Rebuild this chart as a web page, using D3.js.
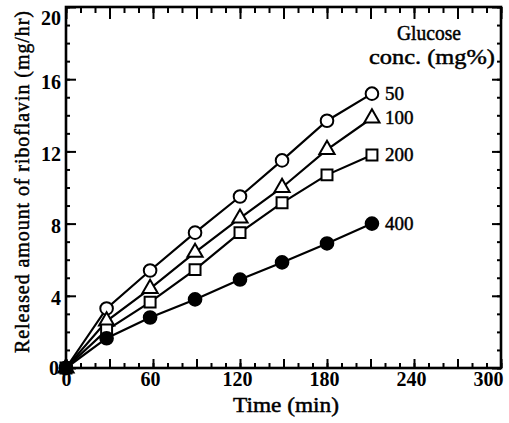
<!DOCTYPE html>
<html>
<head>
<meta charset="utf-8">
<script src="https://cdn.jsdelivr.net/npm/d3@7"></script>
<style>
  html, body { margin: 0; padding: 0; background: #fff; }
  svg { display: block; }
  text { font-family: "Liberation Serif", "Times New Roman", serif; fill: #000; }
  .heavy { stroke: #000; stroke-width: 0.45px; }
</style>
</head>
<body>
<svg id="chart" width="509" height="423"></svg>
<script>
// Sampling times (min)
const times = [0, 28, 58, 89, 120, 149, 180, 211];
// Released riboflavin (mg/hr) for each glucose concentration (mg%)
const conc50  = [0, 3.3, 5.4, 7.5, 9.5, 11.5, 13.7, 15.2];
const conc100 = [0, 2.6, 4.4, 6.4, 8.3, 10.0, 12.1, 13.85];
const conc200 = [0, 2.1, 3.65, 5.45, 7.5, 9.15, 10.7, 11.8];
const conc400 = [0, 1.65, 2.8, 3.8, 4.9, 5.85, 6.9, 8.0];
const seriesLabels = ["50", "100", "200", "400"];
const seriesMarkers = ["circle", "triangle", "square", "dot"];
const xTickLabels = [0, 60, 120, 180, 240, 300];
const yTickLabels = [0, 4, 8, 12, 16, 20];

const svg = d3.select("#chart");
const x = d3.scaleLinear().domain([0, 300]).range([66, 501]);
const y = d3.scaleLinear().domain([0, 20]).range([368, 7]);

const series = [conc50, conc100, conc200, conc400].map((vals, i) => ({
  label: seriesLabels[i],
  marker: seriesMarkers[i],
  points: vals.map((v, j) => ({ t: times[j], v }))
}));

// Plot frame
svg.append("rect")
  .attr("x", x(0)).attr("y", y(20))
  .attr("width", x(300) - x(0)).attr("height", y(0) - y(20))
  .attr("fill", "none").attr("stroke", "#000").attr("stroke-width", 2.6);

// Inward ticks on all four sides
function tickAxis(axisGen, transform, values, size) {
  const g = svg.append("g").attr("transform", transform)
    .call(axisGen.tickValues(values).tickSize(size).tickFormat(""));
  g.select(".domain").remove();
  g.selectAll(".tick line").attr("stroke", "#000").attr("stroke-width", 2);
  return g;
}
const xMinor = d3.range(0, 301, 10);
const xMajor = d3.range(0, 301, 30);
const yMinor = d3.range(0, 21, 1);
const yMajor = d3.range(0, 21, 4);

tickAxis(d3.axisBottom(x), `translate(0,${y(0)})`, xMinor, -5);
tickAxis(d3.axisBottom(x), `translate(0,${y(0)})`, xMajor, -9);
tickAxis(d3.axisTop(x), `translate(0,${y(20)})`, xMinor, -6);
tickAxis(d3.axisTop(x), `translate(0,${y(20)})`, xMajor, -12);
tickAxis(d3.axisLeft(y), `translate(${x(0)},0)`, yMinor, -4);
tickAxis(d3.axisLeft(y), `translate(${x(0)},0)`, yMajor, -10);
tickAxis(d3.axisRight(y), `translate(${x(300)},0)`, yMinor, -4);
tickAxis(d3.axisRight(y), `translate(${x(300)},0)`, yMajor, -9);

// Tick labels
const xLab = svg.append("g").attr("transform", `translate(0,${y(0)})`)
  .call(d3.axisBottom(x).tickValues(xTickLabels).tickSize(0).tickPadding(4).tickFormat(d3.format("d")));
xLab.select(".domain").remove();
xLab.selectAll("text")
  .style("font-family", "'Liberation Serif', serif")
  .style("font-size", "20px").style("font-weight", "bold")
  .attr("dx", -3);
xLab.selectAll(".tick").filter(d => d === 0).select("text").attr("dx", 0);
xLab.selectAll(".tick").filter(d => d === 300).select("text")
  .attr("text-anchor", "end").attr("dx", 2);

const yLab = svg.append("g").attr("transform", `translate(${x(0)},0)`)
  .call(d3.axisLeft(y).tickValues(yTickLabels).tickSize(0).tickPadding(5).tickFormat(d3.format("d")));
yLab.select(".domain").remove();
yLab.selectAll("text")
  .style("font-family", "'Liberation Serif', serif")
  .style("font-size", "20px").style("font-weight", "bold")
  .attr("dy", d => d === 20 ? "0.85em" : d === 0 ? "0.3em" : "0.45em");
yLab.selectAll(".tick").filter(d => d === 0).select("text").attr("dx", -2);

// Axis titles
svg.append("text").attr("class", "heavy")
  .attr("x", 286).attr("y", 412)
  .attr("text-anchor", "middle")
  .attr("textLength", 106).attr("lengthAdjust", "spacingAndGlyphs")
  .style("font-size", "20px")
  .text("Time  (min)");

svg.append("text").attr("class", "heavy")
  .attr("transform", "translate(29,182) rotate(-90)")
  .attr("text-anchor", "middle")
  .attr("textLength", 342).attr("lengthAdjust", "spacing")
  .style("font-size", "20px")
  .text("Released amount of riboflavin (mg/hr)");

// Lines
const line = d3.line().x(d => x(d.t)).y(d => y(d.v));
svg.append("g").selectAll("path").data(series).join("path")
  .attr("d", d => line(d.points))
  .attr("fill", "none").attr("stroke", "#000").attr("stroke-width", 2.2);

// Markers
const sym = {
  circle: d3.symbol(d3.symbolCircle, 125),
  triangle: d3.symbol(d3.symbolTriangle, 100),
  square: d3.symbol(d3.symbolSquare, 120),
  dot: d3.symbol(d3.symbolCircle, 125)
};
series.forEach(s => {
  svg.append("g").selectAll("path").data(s.points).join("path")
    .attr("transform", d => `translate(${x(d.t)},${y(d.v)})`)
    .attr("d", sym[s.marker]())
    .attr("fill", s.marker === "dot" ? "#000" : "#fff")
    .attr("stroke", "#000").attr("stroke-width", 2);
});

// Series labels at line ends
series.forEach(s => {
  const last = s.points[s.points.length - 1];
  svg.append("text").attr("class", "heavy")
    .attr("x", x(last.t) + 13).attr("y", y(last.v) + 6)
    .style("font-size", "19px")
    .text(s.label);
});

// Legend heading
svg.append("text").attr("class", "heavy")
  .attr("x", 429).attr("y", 40).attr("text-anchor", "middle")
  .attr("textLength", 64).attr("lengthAdjust", "spacingAndGlyphs")
  .style("font-size", "20px").text("Glucose");
svg.append("text").attr("class", "heavy")
  .attr("x", 432).attr("y", 64).attr("text-anchor", "middle")
  .attr("textLength", 126).attr("lengthAdjust", "spacingAndGlyphs")
  .style("font-size", "20px").text("conc.  (mg%)");
</script>
</body>
</html>
